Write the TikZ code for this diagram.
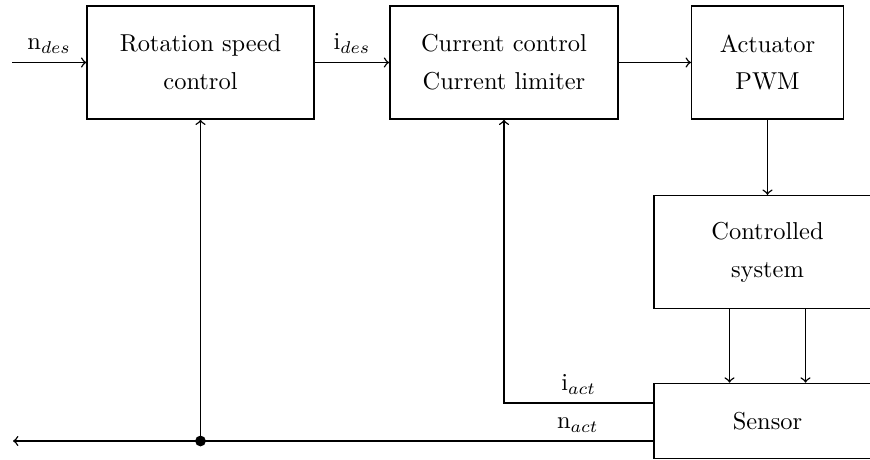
\documentclass[tikz,border=0pt]{standalone}
\usetikzlibrary{positioning,calc}

\tikzset{
  block/.style={draw, align=center, minimum width=3.26cm, minimum height=1.62cm},
}

\begin{document}
\begin{tikzpicture}[x=0.014368cm, y=-0.014368cm, >=to, semithick]
  \useasboundingbox (0,0) rectangle (870,460);

  % forward path
  \node[block] (rot) at (200.5,62.5) {Rotation speed\\[3.5pt]control};
  \node[block, minimum width=3.28cm] (cur) at (504,62.5) {Current control\\[3.5pt]Current limiter};
  \node[block, minimum width=2.18cm] (act) at (767.5,62.5) {Actuator\\[3.5pt]PWM};
  \node[block] (ctrl) at (767.5,252) {Controlled\\[3.5pt]system};
  \node[block, minimum height=1.08cm] (sens) at (767.5,421) {Sensor};

  \coordinate (nin) at (12,62.5);
  \coordinate (nout) at (13,441);

  \draw[->] (nin) -- node[above] {n$_{des}$} (rot);
  \draw[->] (rot) -- node[above] {i$_{des}$} (cur);
  \draw[->] (cur) -- (act);
  \draw[->] (act) -- (ctrl);
  \draw[->] ($(ctrl.south)+(-38,0)$) -- ($(sens.north)+(-38,0)$);
  \draw[->] ($(ctrl.south)+(38,0)$) -- ($(sens.north)+(38,0)$);

  % feedback
  \draw[->] ($(sens.west)+(0,-18)$) -| node[above, pos=0.25] {i$_{act}$} (cur.south);
  \draw[->] ($(sens.west)+(0,20)$) -- node[above, pos=0.118] {n$_{act}$} (nout);
  \coordinate (junc) at (rot.south |- nout);
  \fill (junc) circle (2.2pt);
  \draw[->] (junc) -- (rot.south);
\end{tikzpicture}
\end{document}
